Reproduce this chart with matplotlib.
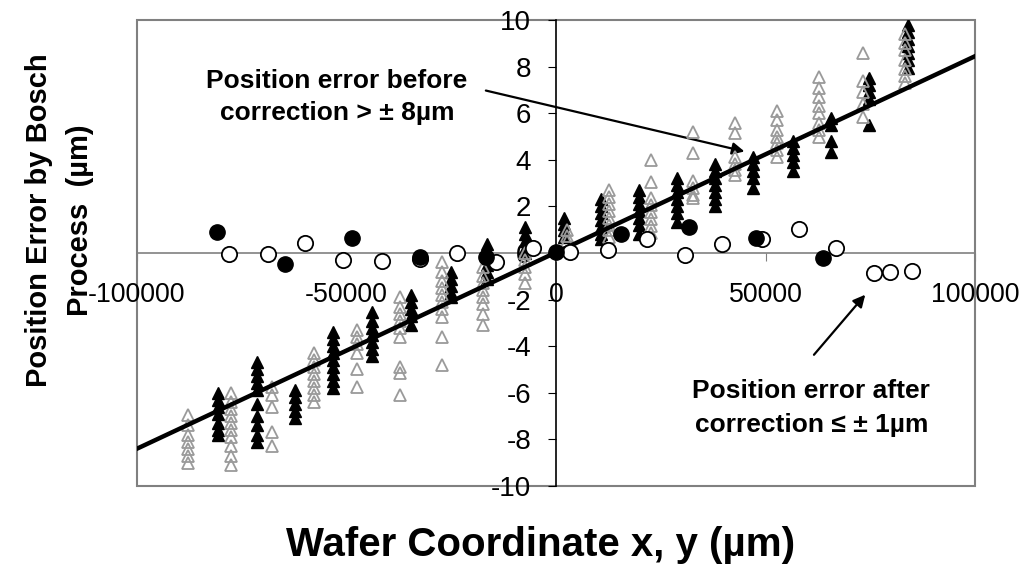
import matplotlib
matplotlib.use("Agg")
import matplotlib.pyplot as plt
from matplotlib.patches import Rectangle

plt.rcParams['font.family'] = ['Liberation Sans', 'DejaVu Sans']
plt.rcParams['axes.unicode_minus'] = False

# before correction, grey open triangles: (x, list of y)
grey_x = [-87800, -77600, -67800, -57800, -47500, -37200, -27200, -17400, -7400,
          2600, 12600, 22700, 32700, 42700, 52700, 62800, 73300, 83300]
grey_y = [
    [-6.95, -7.4, -7.8, -8.1, -8.4, -8.7, -9.0],
    [-6.0, -6.4, -6.7, -7.0, -7.3, -7.6, -7.9, -8.3, -8.7, -9.1],
    [-5.75, -6.1, -6.6, -7.7, -8.3],
    [-4.3, -4.6, -4.9, -5.2, -5.5, -5.8, -6.1, -6.4],
    [-3.3, -3.6, -3.9, -4.3, -5.0, -5.75],
    [-1.9, -2.3, -2.6, -2.9, -3.2, -3.6, -4.9, -5.15, -6.1],
    [-0.4, -0.8, -1.2, -1.5, -1.8, -2.1, -2.4, -2.75, -3.6, -4.8],
    [-0.6, -1.0, -1.3, -1.6, -1.9, -2.2, -2.6, -3.1],
    [0.0, -0.3, -0.6, -0.9, -1.3],
    [1.0, 0.75, 0.5],
    [2.7, 2.4, 2.1, 1.8, 1.5, 1.2, 1.0, 0.7],
    [4.0, 3.05, 2.35, 2.05, 1.75, 1.45, 1.15, 0.85],
    [5.2, 4.3, 3.1, 2.8, 2.5, 2.35],
    [5.6, 5.15, 4.1, 3.8, 3.55, 3.35],
    [6.1, 5.7, 5.3, 5.0, 4.7, 4.4, 4.1],
    [7.55, 7.1, 6.7, 6.3, 6.0, 5.6, 5.3, 5.0],
    [8.6, 7.4, 6.9, 6.4, 5.85],
    [9.4, 9.0, 8.7, 8.3, 7.9, 7.6, 7.3],
]

# before correction, black filled triangles
black_x = [-80600, -71400, -62300, -53200, -43900, -34600, -25100, -16500, -7400,
           1900, 10700, 19800, 28900, 37900, 47000, 56600, 65600, 74700, 84000]
black_y = [
    [-6.0, -6.3, -6.6, -6.9, -7.3, -7.6, -7.8],
    [-4.7, -5.0, -5.3, -5.6, -5.9, -6.5, -7.0, -7.4, -7.8, -8.1],
    [-5.9, -6.2, -6.5, -6.8, -7.1],
    [-3.4, -3.7, -4.0, -4.3, -4.6, -4.9, -5.2, -5.5, -5.8],
    [-2.55, -2.9, -3.2, -3.5, -3.8, -4.1, -4.4],
    [-1.8, -2.1, -2.4, -2.7, -3.1],
    [-0.8, -1.1, -1.4, -1.7, -1.9],
    [0.4, 0.1, -0.2, -0.5, -0.8, -1.1],
    [1.1, 0.8, 0.5, 0.2, 0.0],
    [1.5, 1.25, 1.0, 0.7],
    [2.3, 2.0, 1.7, 1.4, 1.1, 0.8, 0.6],
    [2.7, 2.4, 2.1, 1.8, 1.5, 1.2, 0.8],
    [3.2, 2.9, 2.6, 2.3, 2.0, 1.7, 1.35],
    [3.8, 3.5, 3.2, 2.9, 2.6, 2.3, 2.0],
    [4.1, 3.8, 3.5, 3.2, 2.8],
    [4.8, 4.5, 4.2, 3.9, 3.5],
    [5.8, 5.5, 4.8, 4.35],
    [7.5, 7.2, 6.9, 6.6, 5.5],
    [9.8, 9.5, 9.2, 8.9, 8.6, 8.3, 7.95],
]

# after correction
filled_x = [-80900, -64700, -48700, -32500, -16700, 0, 15500, 31700, 47700, 63700]
filled_y = [0.9, -0.47, 0.65, -0.17, -0.17, 0.05, 0.8, 1.1, 0.65, -0.23]
open_x = [-78000, -68700, -60000, -50800, -41500, -32500, -23600, -14300, -5500, 3300,
          12500, 21700, 30800, 39700, 49200, 58000, 66800, 75900, 79700, 85000]
open_y = [-0.05, -0.05, 0.43, -0.3, -0.34, -0.25, 0.0, -0.4, 0.2, 0.05,
          0.13, 0.6, -0.09, 0.37, 0.58, 1.03, 0.2, -0.88, -0.8, -0.76]

# fit line
fit_x = [-100000, 100000]
fit_y = [-8.4, 8.45]

fig = plt.figure(figsize=(10.19, 5.67), dpi=100)
ax = fig.add_axes([0.1344, 0.1429, 0.8226, 0.8218])

for x, ys in zip(black_x, black_y):
    ax.plot([x] * len(ys), ys, linestyle='none', marker='^', markersize=8,
            color='black', zorder=3)
for x, ys in zip(grey_x, grey_y):
    ax.plot([x] * len(ys), ys, linestyle='none', marker='^', markersize=8,
            markerfacecolor='none', markeredgecolor='#9a9a9a', markeredgewidth=1.3, zorder=4)

ax.plot(fit_x, fit_y, color='black', linewidth=3.2, zorder=5)

ax.plot(open_x, open_y, linestyle='none', marker='o', markersize=11,
        markerfacecolor='white', markeredgecolor='black', markeredgewidth=1.3, zorder=6)
ax.plot(filled_x, filled_y, linestyle='none', marker='o', markersize=11,
        color='black', zorder=7)

ax.set_xlim(-100000, 100000)
ax.set_ylim(-10, 10)

ax.spines['left'].set_position(('data', 0))
ax.spines['bottom'].set_position(('data', 0))
ax.spines['left'].set_color('black')
ax.spines['bottom'].set_color('#808080')
ax.spines['top'].set_visible(False)
ax.spines['right'].set_visible(False)
for s in ['left', 'bottom']:
    ax.spines[s].set_linewidth(1.2)
    ax.spines[s].set_zorder(1)
ax.add_patch(Rectangle((0, 0), 1, 1, transform=ax.transAxes, fill=False,
                       edgecolor='#808080', linewidth=1.5, clip_on=False, zorder=1))

ax.set_xticks([-100000, -50000, 0, 50000, 100000])
ax.set_yticks(range(-10, 11, 2))
ax.tick_params(axis='x', direction='out', length=6, pad=15, labelsize=19.3, color='#808080')
ax.tick_params(axis='y', direction='out', length=6, pad=12, labelsize=20, color='black')

ax.annotate('', xy=(45600, 4.33), xytext=(-17400, 7.0),
            arrowprops=dict(arrowstyle='-|>', color='black', lw=1.6, mutation_scale=18))
ax.text(-52300, 6.7, 'Position error before\ncorrection > ± 8µm', ha='center', va='center',
        fontsize=19, fontweight='bold', linespacing=1.45)

ax.annotate('', xy=(74200, -1.7), xytext=(61100, -4.46),
            arrowprops=dict(arrowstyle='-|>', color='black', lw=1.6, mutation_scale=18))
ax.text(60900, -6.65, 'Position error after\ncorrection ≤ ± 1µm', ha='center', va='center',
        fontsize=19, fontweight='bold', linespacing=1.5)

fig.text(0.53, 0.039, 'Wafer Coordinate x, y (µm)', ha='center', va='center',
         fontsize=29, fontweight='bold')
fig.text(0.058, 0.612, 'Position Error by Bosch\nProcess  (µm)', ha='center', va='center',
         rotation=90, fontsize=21, fontweight='bold', linespacing=1.6)

fig.savefig('out.png', dpi=100)
